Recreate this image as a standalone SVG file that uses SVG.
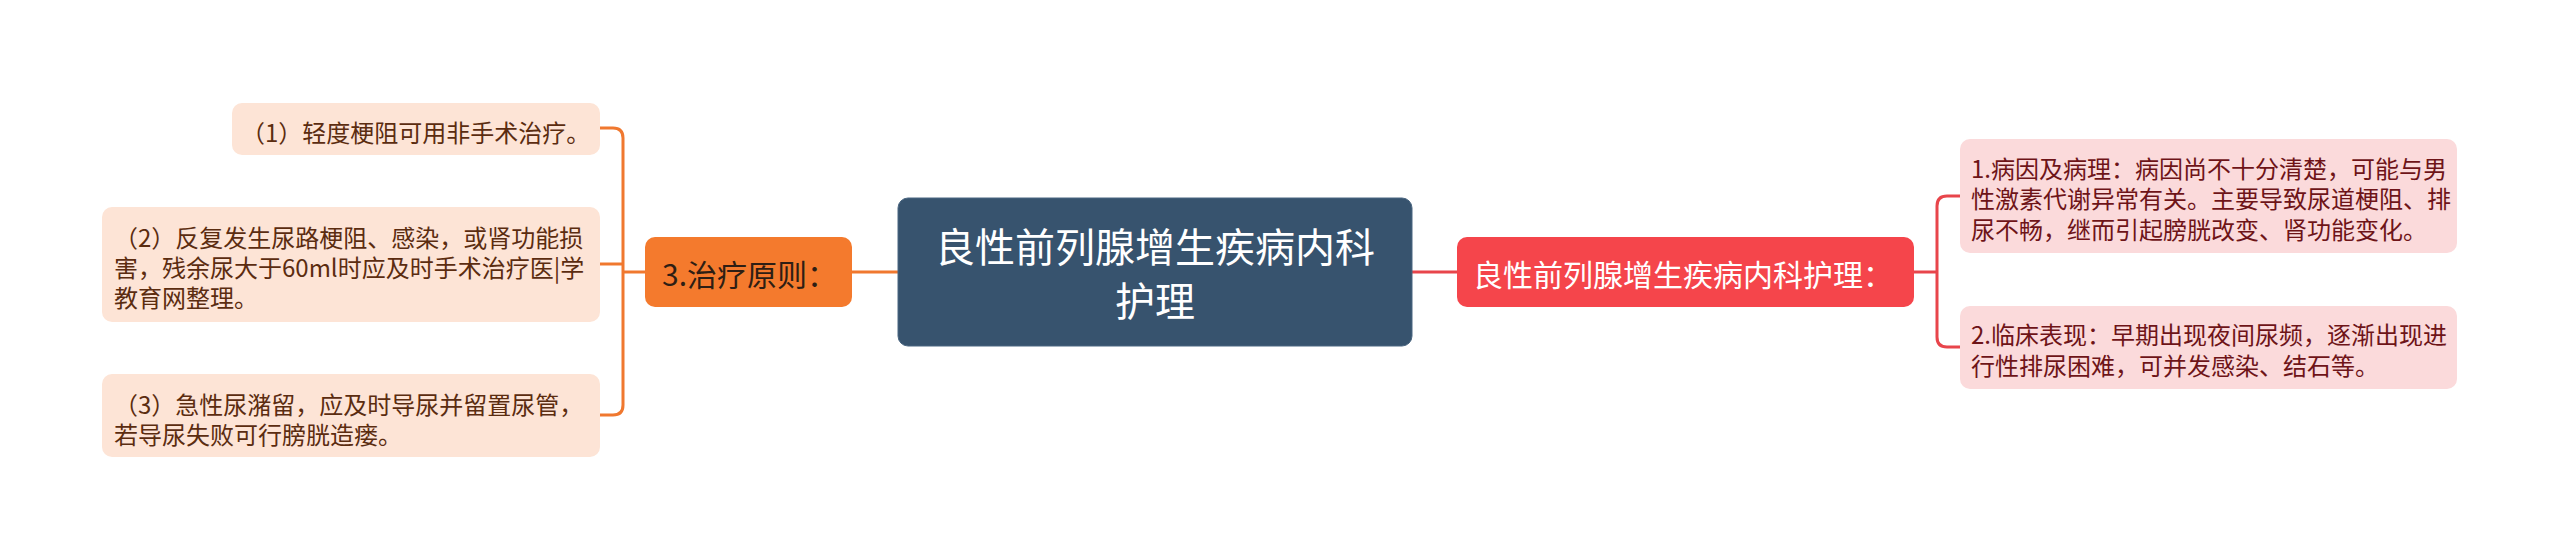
<svg xmlns="http://www.w3.org/2000/svg" width="2560" height="560" viewBox="0 0 2560 560">
<style>
text { font-family: "Noto Sans CJK SC", "Noto Sans", sans-serif; dominant-baseline: central; }
.leafL { fill: #fde4d6; }
.leafR { fill: #fbdadb; }
.tL { font-size: 24px; fill: #5b2c10; }
.tR { font-size: 24px; fill: #6e1418; }
.node { font-size: 30px; }
.lnO { fill: none; stroke: #f0782f; stroke-width: 3; }
.lnR { fill: none; stroke: #e8454b; stroke-width: 3; }
</style>
<rect width="2560" height="560" fill="#ffffff"/>
<g id="connectors">
  <path class="lnO" d="M852 272 H898"/>
  <path class="lnO" d="M645 272 H623"/>
  <path class="lnO" d="M600 128 H613 Q623 128 623 138 V405 Q623 415 613 415 H600"/>
  <path class="lnO" d="M600 264 H623"/>
  <path class="lnR" d="M1412 272 H1457"/>
  <path class="lnR" d="M1914 272 H1937"/>
  <path class="lnR" d="M1960 196 H1947 Q1937 196 1937 206 V337 Q1937 347 1947 347 H1960"/>
</g>
<g id="center">
  <rect x="898" y="198" width="514" height="148" rx="10" fill="#37536e" stroke="#4a6681" stroke-width="1"/>
  <text x="1155" y="245" text-anchor="middle" font-size="40" fill="#ffffff">良性前列腺增生疾病内科</text>
  <text x="1155" y="299" text-anchor="middle" font-size="40" fill="#ffffff">护理</text>
</g>
<g id="n3">
  <rect x="645" y="237" width="207" height="70" rx="10" fill="#f47a2d"/>
  <text class="node" x="662" y="273" fill="#2e1e14">3.治疗原则：</text>
</g>
<g id="nRed">
  <rect x="1457" y="237" width="457" height="70" rx="10" fill="#f5454b"/>
  <text class="node" x="1473" y="273" fill="#ffffff">良性前列腺增生疾病内科护理：</text>
</g>
<g id="leaf1">
  <rect class="leafL" x="232" y="103" width="368" height="52" rx="10"/>
  <text class="tL" x="241" y="131">（1）轻度梗阻可用非手术治疗。</text>
</g>
<g id="leaf2">
  <rect class="leafL" x="102" y="207" width="498" height="115" rx="10"/>
  <text class="tL" x="114" y="236">（2）反复发生尿路梗阻、感染，或肾功能损</text>
  <text class="tL" x="114" y="266">害，残余尿大于60ml时应及时手术治疗医|学</text>
  <text class="tL" x="114" y="296">教育网整理。</text>
</g>
<g id="leaf3">
  <rect class="leafL" x="102" y="374" width="498" height="83" rx="10"/>
  <text class="tL" x="114" y="403">（3）急性尿潴留，应及时导尿并留置尿管，</text>
  <text class="tL" x="114" y="433">若导尿失败可行膀胱造瘘。</text>
</g>
<g id="leafR1">
  <rect class="leafR" x="1960" y="139" width="497" height="114" rx="10"/>
  <text class="tR" x="1971" y="167">1.病因及病理：病因尚不十分清楚，可能与男</text>
  <text class="tR" x="1971" y="197.5">性激素代谢异常有关。主要导致尿道梗阻、排</text>
  <text class="tR" x="1971" y="228">尿不畅，继而引起膀胱改变、肾功能变化。</text>
</g>
<g id="leafR2">
  <rect class="leafR" x="1960" y="306" width="497" height="83" rx="10"/>
  <text class="tR" x="1971" y="333.5">2.临床表现：早期出现夜间尿频，逐渐出现进</text>
  <text class="tR" x="1971" y="364.5">行性排尿困难，可并发感染、结石等。</text>
</g>
</svg>
